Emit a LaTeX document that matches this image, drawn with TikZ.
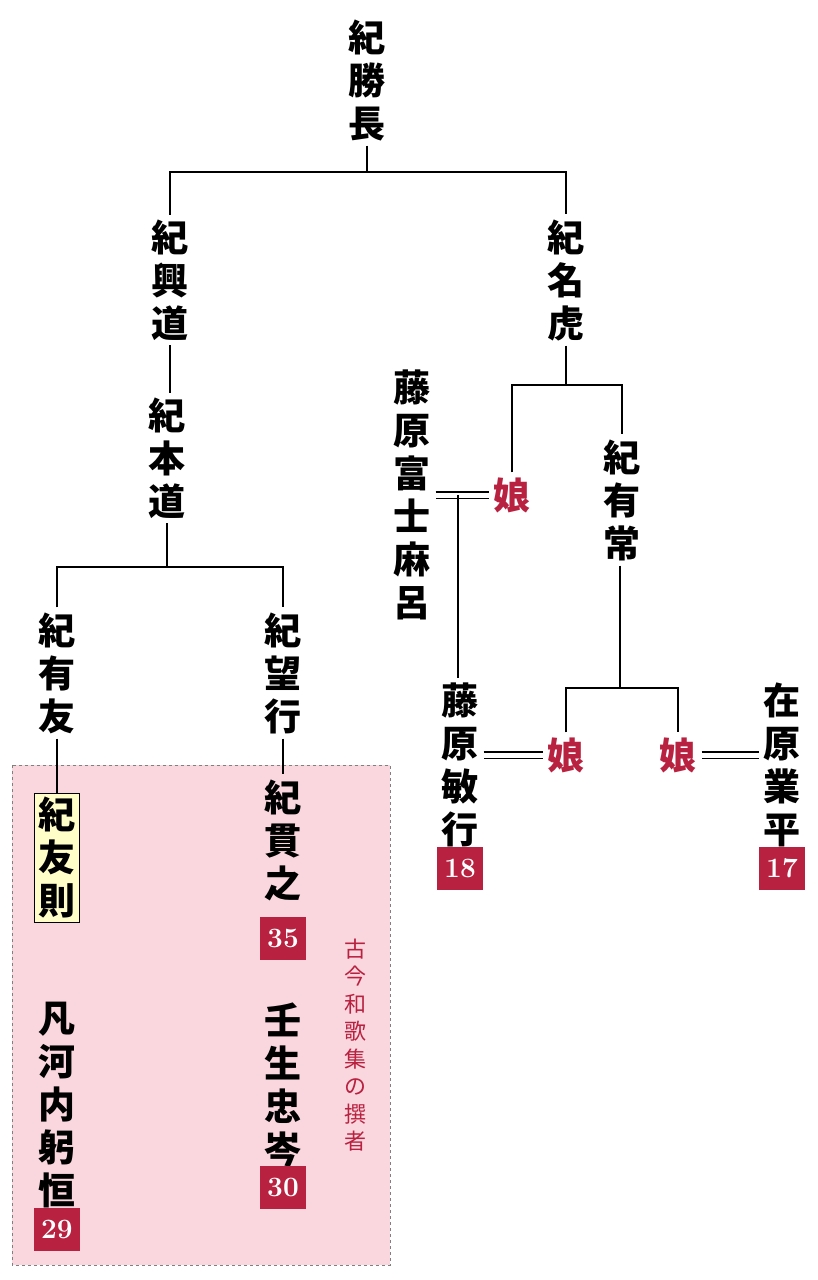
\documentclass[tikz,border=0pt]{standalone}
\usepackage{fontspec}
\newfontfamily\jpfont{Noto Sans CJK JP}
\usetikzlibrary{positioning}
\definecolor{benicolor}{HTML}{B8213F}
\definecolor{pinkbg}{HTML}{FAD7DF}
\definecolor{kiiro}{HTML}{FFFDC8}
\tikzset{
  person/.style = {inner sep=0pt, outer sep=5pt, align=center, font=\jpfont\bfseries\fontsize{37}{43}\selectfont},
  daughter/.style = {person, text=benicolor},
  num/.style = {fill=benicolor, text=white, inner sep=0pt, minimum width=46pt,
                minimum height=43pt, font=\rmfamily\bfseries\fontsize{28}{30}\selectfont},
  link/.style = {line width=1.4pt},
  marry/.style = {line width=1.3pt, double, double distance=5pt}
}
\begin{document}
\begin{tikzpicture}[x=1pt,y=-1pt]
	\useasboundingbox (0,0) rectangle (817,1280);
	% senja area
	\draw[gray, dashed, fill=pinkbg] (12,765) rectangle (390,1265);
	\node[inner sep=0pt, align=center, text=benicolor, font=\jpfont\fontsize{22}{27.5}\selectfont]
	    (senja) at (355,1045) {古\\今\\和\\歌\\集\\の\\撰\\者};
	% the Ki family
	\node[person] (katsunaga) at (367,80) {紀\\勝\\長};
	\node[person] (okimichi) at (170,280) {紀\\興\\道};
	\node[person] (natora) at (566,280) {紀\\名\\虎};
	\node[person] (motomichi) at (167,458) {紀\\本\\道};
	\node[person] (aritomo) at (57,673) {紀\\有\\友};
	\node[person] (mochiyuki) at (283,673) {紀\\望\\行};
	\node[person, draw, fill=kiiro, line width=1pt, inner sep=4pt, outer sep=0pt] (tomonori) at (57,858) {紀\\友\\則};
	\node[person] (tsurayuki) at (283,840) {紀\\貫\\之};
	\node[num] (n35) at (283,938) {35};
	\node[person] (tadamine) at (283,1085) {壬\\生\\忠\\岑};
	\node[num] (n30) at (283,1187) {30};
	\node[person] (mitsune) at (57,1105) {凡\\河\\内\\躬\\恒};
	\node[num] (n29) at (57,1229) {29};
	% right branch
	\node[daughter] (musume1) at (512,495) {娘};
	\node[person] (aritsune) at (622,500) {紀\\有\\常};
	\node[person] (fujimaro) at (412,495) {藤\\原\\富\\士\\麻\\呂};
	\node[person] (toshiyuki) at (460,765) {藤\\原\\敏\\行};
	\node[num] (n18) at (460,868) {18};
	\node[daughter] (musume2) at (566,755) {娘};
	\node[daughter] (musume3) at (678,755) {娘};
	\node[person] (narihira) at (782,765) {在\\原\\業\\平};
	\node[num] (n17) at (782,868) {17};
	% connectors
	\coordinate (j1) at (367,172);
	\draw[link] (katsunaga.south) -- (j1);
	\draw[link] (okimichi.north) |- (j1) -| (natora.north);
	\draw[link] (okimichi.south) -- (motomichi.north -| okimichi.south);
	\coordinate (j2) at (167,567);
	\draw[link] (motomichi.south) -- (j2);
	\draw[link] (aritomo.north) |- (j2) -| (mochiyuki.north);
	\draw[link] (aritomo.south) -- (tomonori.north);
	\draw[link] (mochiyuki.south) -- (tsurayuki.north);
	\coordinate (j3) at (566,385);
	\draw[link] (natora.south) -- (j3);
	\draw[link] (musume1.north) |- (j3) -| (aritsune.north);
	\draw[marry] (fujimaro.east |- musume1) -- (musume1.west);
	\coordinate (j4) at (458,495);
	\draw[link] (j4) -- (toshiyuki.north -| j4);
	\coordinate (j5) at (620,688);
	\draw[link] (aritsune.south -| j5) -- (j5);
	\draw[link] (musume2.north) |- (j5) -| (musume3.north);
	\draw[marry] (toshiyuki.east |- musume2) -- (musume2.west);
	\draw[marry] (musume3.east) -- (narihira.west |- musume3);
\end{tikzpicture}
\end{document}
